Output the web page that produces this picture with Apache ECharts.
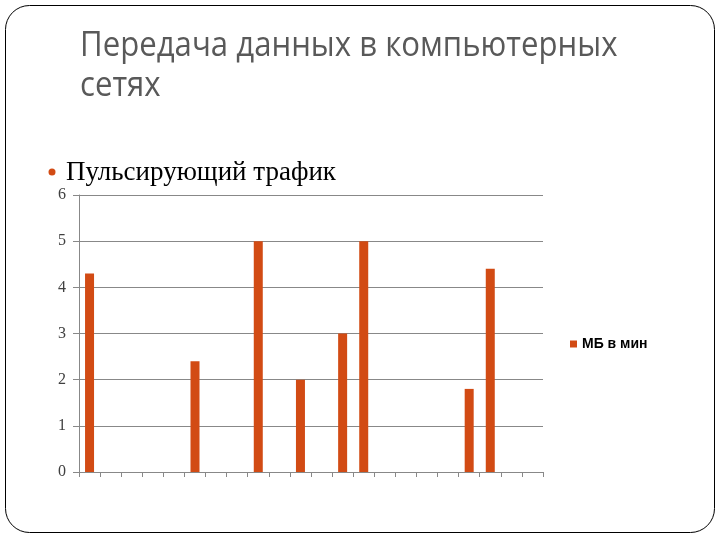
<!DOCTYPE html>
<html>
<head>
<meta charset="utf-8">
<script src="https://cdn.jsdelivr.net/npm/echarts@6/dist/echarts.min.js"></script>
<style>
  html, body { margin: 0; padding: 0; background: #fff; }
  #chart { width: 720px; height: 540px; }
</style>
</head>
<body>
<div id="chart"></div>
<script>
// данные графика
const categories = ['1', '2', '3', '4', '5', '6', '7', '8', '9', '10', '11',
  '12', '13', '14', '15', '16', '17', '18', '19', '20', '21', '22']
const traffic = [4.3, null, null, null, null, 2.4, null, null, 5, null, 2,
  null, 3, 5, null, null, null, null, 1.8, 4.4, null, null]
const yTicks = [0, 1, 2, 3, 4, 5, 6]
const seriesName = 'МБ в мин'
const titleLines = ['Передача данных в компьютерных', 'сетях']
const bulletText = 'Пульсирующий трафик'

const chart = echarts.init(document.getElementById('chart'))

const options = {
  animation: false,
  graphic: [
    {
      type: 'rect',
      shape: { x: 5.5, y: 5.5, width: 709, height: 527, r: 24 },
      style: { fill: 'none', stroke: '#000', lineWidth: 1 },
    },
    // заголовок слайда
    {
      type: 'text',
      x: 80,
      y: 46,
      scaleX: 0.89,
      style: {
        text: titleLines[0],
        font: '35px "Open Sans"',
        fill: '#595959',
        verticalAlign: 'middle',
      },
    },
    {
      type: 'text',
      x: 80,
      y: 86.5,
      scaleX: 0.89,
      style: {
        text: titleLines[1],
        font: '35px "Open Sans"',
        fill: '#595959',
        verticalAlign: 'middle',
      },
    },
    {
      type: 'circle',
      shape: { cx: 52, cy: 172, r: 3.5 },
      style: { fill: '#d24b14' },
    },
    {
      type: 'text',
      x: 66,
      y: 173,
      style: {
        text: bulletText,
        font: '27px "Liberation Serif"',
        fill: '#000',
        verticalAlign: 'middle',
      },
    },
  ],
  grid: {
    left: 79,
    right: 177,
    top: 195,
    bottom: 68,
  },
  legend: {
    data: [seriesName],
    left: 565,
    top: 332,
    itemWidth: 7,
    itemHeight: 7,
    icon: 'rect',
    textStyle: {
      fontFamily: 'Liberation Sans',
      fontSize: 14,
      fontWeight: 'bold',
      color: '#000',
    },
  },
  xAxis: {
    type: 'category',
    data: categories,
    boundaryGap: true,
    axisLine: { lineStyle: { color: '#888' } },
    axisTick: { show: true, interval: 0, length: 5, lineStyle: { color: '#888' } },
    axisLabel: { show: false },
  },
  yAxis: {
    type: 'value',
    min: yTicks[0],
    max: yTicks[yTicks.length - 1],
    interval: 1,
    axisLine: { show: true, lineStyle: { color: '#888' } },
    axisTick: { show: true, length: 6, lineStyle: { color: '#888' } },
    axisLabel: {
      margin: 13,
      fontFamily: 'Liberation Serif',
      fontSize: 16,
      color: '#404040',
    },
    splitLine: { lineStyle: { color: '#888' } },
  },
  series: [
    {
      name: seriesName,
      type: 'bar',
      data: traffic,
      barWidth: 9,
      itemStyle: { color: '#d24b14' },
    },
  ],
}

chart.setOption(options)
</script>
</body>
</html>
